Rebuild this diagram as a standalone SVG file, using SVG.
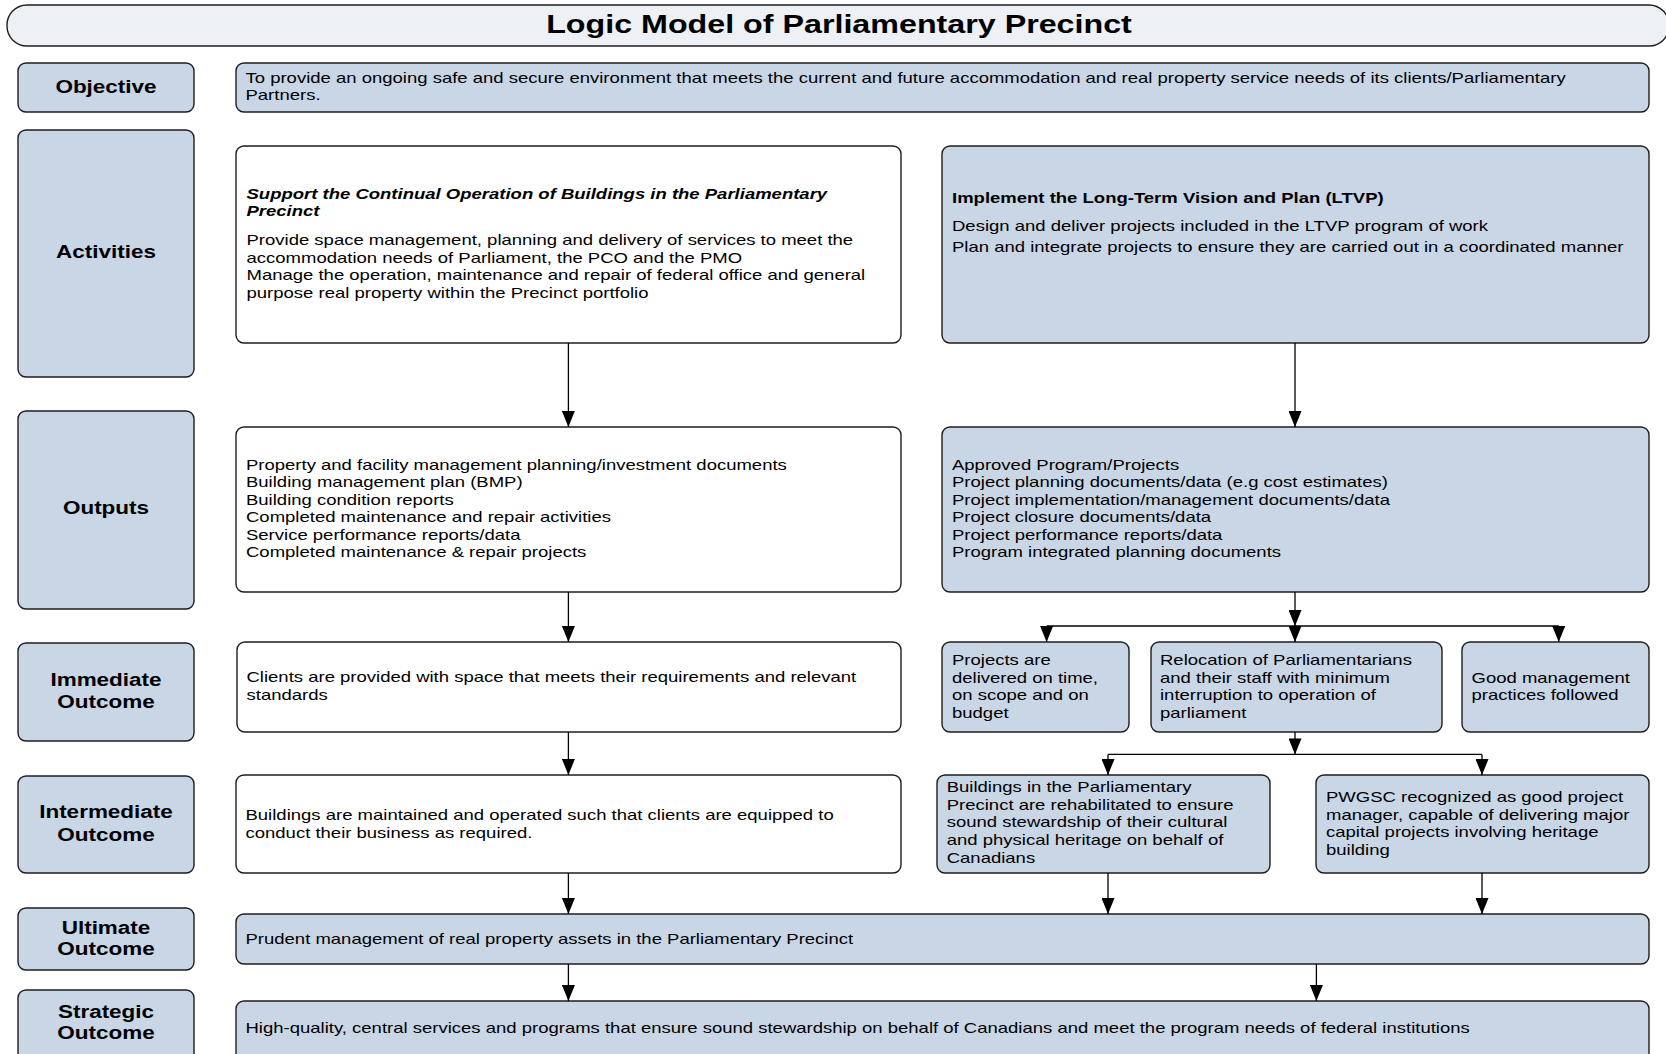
<svg xmlns="http://www.w3.org/2000/svg" width="1666" height="1054" viewBox="0 0 1666 1054">
<style>
.box{stroke:#1e1e1e;stroke-width:1.4}
.blue{fill:#c9d6e5}
.white{fill:#ffffff}
.t{font-family:"Liberation Sans",Arial,sans-serif;font-size:14.8px;fill:#000}
.b{font-weight:bold}
.bi{font-weight:bold;font-style:italic}
.lbl{font-family:"Liberation Sans",Arial,sans-serif;font-size:18px;font-weight:bold;fill:#000;text-anchor:middle}
.title{font-family:"Liberation Sans",Arial,sans-serif;font-size:25.8px;font-weight:bold;fill:#000;text-anchor:middle}
</style>
<defs>
<marker id="ah" viewBox="0 0 16 13" refX="16" refY="6.5" markerWidth="16" markerHeight="13" markerUnits="userSpaceOnUse" orient="auto">
<path d="M0,0 L16,6.5 L0,13 Z" fill="#000"/>
</marker>
</defs>
<rect width="1666" height="1054" fill="#ffffff"/>

<g id="title">
<rect class="box" x="7" y="5" width="1662" height="41" rx="20" fill="#edf0f5"/>
<text class="title" transform="translate(839 33) scale(1.25 1)">Logic Model of Parliamentary Precinct</text>
</g>

<g id="lbl-objective"><rect class="box blue" x="18" y="63" width="176" height="49" rx="8"/>
<text class="lbl" transform="translate(106 93) scale(1.25 1)">Objective</text></g>
<g id="lbl-activities"><rect class="box blue" x="18" y="130" width="176" height="247" rx="8"/>
<text class="lbl" transform="translate(106 258) scale(1.25 1)">Activities</text></g>
<g id="lbl-outputs"><rect class="box blue" x="18" y="411" width="176" height="198" rx="8"/>
<text class="lbl" transform="translate(106 514) scale(1.25 1)">Outputs</text></g>
<g id="lbl-immediate"><rect class="box blue" x="18" y="643" width="176" height="98" rx="8"/>
<text class="lbl" transform="translate(106 685.5) scale(1.25 1)"><tspan x="0" y="0">Immediate</tspan><tspan x="0" y="22.3">Outcome</tspan></text></g>
<g id="lbl-intermediate"><rect class="box blue" x="18" y="776" width="176" height="97" rx="8"/>
<text class="lbl" transform="translate(106 818.3) scale(1.25 1)"><tspan x="0" y="0">Intermediate</tspan><tspan x="0" y="22.3">Outcome</tspan></text></g>
<g id="lbl-ultimate"><rect class="box blue" x="18" y="908" width="176" height="62" rx="8"/>
<text class="lbl" transform="translate(106 934) scale(1.25 1)"><tspan x="0" y="0">Ultimate</tspan><tspan x="0" y="21.3">Outcome</tspan></text></g>
<g id="lbl-strategic"><rect class="box blue" x="18" y="990" width="176" height="75" rx="8"/>
<text class="lbl" transform="translate(106 1018) scale(1.25 1)"><tspan x="0" y="0">Strategic</tspan><tspan x="0" y="21.3">Outcome</tspan></text></g>

<g id="objective"><rect class="box blue" x="236" y="63" width="1413" height="49" rx="8"/>
<text class="t" transform="translate(245.5 82.5) scale(1.25 1)"><tspan x="0" y="0">To provide an ongoing safe and secure environment that meets the current and future accommodation and real property service needs of its clients/Parliamentary</tspan><tspan x="0" y="18">Partners.</tspan></text></g>

<g id="act-support"><rect class="box white" x="236" y="146" width="665" height="197" rx="8"/>
<text class="t" transform="translate(246.5 198.5) scale(1.25 1)"><tspan class="bi" x="0" y="0">Support the Continual Operation of Buildings in the Parliamentary</tspan><tspan class="bi" x="0" y="18">Precinct</tspan><tspan x="0" y="46.5">Provide space management, planning and delivery of services to meet the</tspan><tspan x="0" y="64.3">accommodation needs of Parliament, the PCO and the PMO</tspan><tspan x="0" y="81.8">Manage the operation, maintenance and repair of federal office and general</tspan><tspan x="0" y="99.6">purpose real property within the Precinct portfolio</tspan></text></g>

<g id="act-ltvp"><rect class="box blue" x="942" y="146" width="707" height="197" rx="8"/>
<text class="t" transform="translate(952 202.5) scale(1.25 1)"><tspan class="b" x="0" y="0">Implement the Long-Term Vision and Plan (LTVP)</tspan><tspan x="0" y="29">Design and deliver projects included in the LTVP program of work</tspan><tspan x="0" y="50">Plan and integrate projects to ensure they are carried out in a coordinated manner</tspan></text></g>

<g id="out-left"><rect class="box white" x="236" y="427" width="665" height="165" rx="8"/>
<text class="t" transform="translate(246 469.5) scale(1.25 1)"><tspan x="0" y="0">Property and facility management planning/investment documents</tspan><tspan x="0" y="17.6">Building management plan (BMP)</tspan><tspan x="0" y="35.2">Building condition reports</tspan><tspan x="0" y="52.8">Completed maintenance and repair activities</tspan><tspan x="0" y="70.4">Service performance reports/data</tspan><tspan x="0" y="88">Completed maintenance &amp; repair projects</tspan></text></g>

<g id="out-right"><rect class="box blue" x="942" y="427" width="707" height="165" rx="8"/>
<text class="t" transform="translate(952 469.5) scale(1.25 1)"><tspan x="0" y="0">Approved Program/Projects</tspan><tspan x="0" y="17.6">Project planning documents/data (e.g cost estimates)</tspan><tspan x="0" y="35.2">Project implementation/management documents/data</tspan><tspan x="0" y="52.8">Project closure documents/data</tspan><tspan x="0" y="70.4">Project performance reports/data</tspan><tspan x="0" y="88">Program integrated planning documents</tspan></text></g>

<g id="imm-left"><rect class="box white" x="237" y="642" width="664" height="90" rx="8"/>
<text class="t" transform="translate(246.5 682) scale(1.25 1)"><tspan x="0" y="0">Clients are provided with space that meets their requirements and relevant</tspan><tspan x="0" y="17.6">standards</tspan></text></g>

<g id="imm-projects"><rect class="box blue" x="942" y="642" width="187" height="90" rx="8"/>
<text class="t" transform="translate(952 665) scale(1.25 1)"><tspan x="0" y="0">Projects are</tspan><tspan x="0" y="17.6">delivered on time,</tspan><tspan x="0" y="35.2">on scope and on</tspan><tspan x="0" y="52.8">budget</tspan></text></g>

<g id="imm-relocation"><rect class="box blue" x="1151" y="642" width="291" height="90" rx="8"/>
<text class="t" transform="translate(1160 665) scale(1.25 1)"><tspan x="0" y="0">Relocation of Parliamentarians</tspan><tspan x="0" y="17.6">and their staff with minimum</tspan><tspan x="0" y="35.2">interruption to operation of</tspan><tspan x="0" y="52.8">parliament</tspan></text></g>

<g id="imm-good"><rect class="box blue" x="1462" y="642" width="187" height="90" rx="8"/>
<text class="t" transform="translate(1471.5 682.6) scale(1.25 1)"><tspan x="0" y="0">Good management</tspan><tspan x="0" y="17.6">practices followed</tspan></text></g>

<g id="int-left"><rect class="box white" x="236" y="775" width="665" height="98" rx="8"/>
<text class="t" transform="translate(245.5 820) scale(1.25 1)"><tspan x="0" y="0">Buildings are maintained and operated such that clients are equipped to</tspan><tspan x="0" y="17.6">conduct their business as required.</tspan></text></g>

<g id="int-buildings"><rect class="box blue" x="937" y="775" width="333" height="98" rx="8"/>
<text class="t" transform="translate(946.7 792.3) scale(1.25 1)"><tspan x="0" y="0">Buildings in the Parliamentary</tspan><tspan x="0" y="17.6">Precinct are rehabilitated to ensure</tspan><tspan x="0" y="35.2">sound stewardship of their cultural</tspan><tspan x="0" y="52.8">and physical heritage on behalf of</tspan><tspan x="0" y="70.4">Canadians</tspan></text></g>

<g id="int-pwgsc"><rect class="box blue" x="1316" y="775" width="333" height="98" rx="8"/>
<text class="t" transform="translate(1326 802) scale(1.25 1)"><tspan x="0" y="0">PWGSC recognized as good project</tspan><tspan x="0" y="17.6">manager, capable of delivering major</tspan><tspan x="0" y="35.2">capital projects involving heritage</tspan><tspan x="0" y="52.8">building</tspan></text></g>

<g id="ultimate"><rect class="box blue" x="236" y="914" width="1413" height="50" rx="8"/>
<text class="t" transform="translate(245.5 943.5) scale(1.25 1)">Prudent management of real property assets in the Parliamentary Precinct</text></g>

<g id="strategic"><rect class="box blue" x="236" y="1001" width="1413" height="64" rx="8"/>
<text class="t" transform="translate(245.5 1032.5) scale(1.25 1)">High-quality, central services and programs that ensure sound stewardship on behalf of Canadians and meet the program needs of federal institutions</text></g>

<g id="connectors" fill="none" stroke="#000" stroke-width="1.3">
<path d="M568.4,343 V427" marker-end="url(#ah)"/>
<path d="M1295,343 V427" marker-end="url(#ah)"/>
<path d="M568.4,592 V642" marker-end="url(#ah)"/>
<path d="M1295,592 V626" marker-end="url(#ah)"/>
<path d="M1046.6,626 H1558.7"/>
<path d="M1046.6,626 V642" marker-end="url(#ah)"/>
<path d="M1295,626 V642" marker-end="url(#ah)"/>
<path d="M1558.7,626 V642" marker-end="url(#ah)"/>
<path d="M568.4,732 V775" marker-end="url(#ah)"/>
<path d="M1295,732 V754.4" marker-end="url(#ah)"/>
<path d="M1108,754.4 H1482"/>
<path d="M1108,754.4 V775" marker-end="url(#ah)"/>
<path d="M1482,754.4 V775" marker-end="url(#ah)"/>
<path d="M568.4,873 V914" marker-end="url(#ah)"/>
<path d="M1108,873 V914" marker-end="url(#ah)"/>
<path d="M1482,873 V914" marker-end="url(#ah)"/>
<path d="M568.4,964 V1001" marker-end="url(#ah)"/>
<path d="M1316.4,964 V1001" marker-end="url(#ah)"/>
</g>
</svg>
